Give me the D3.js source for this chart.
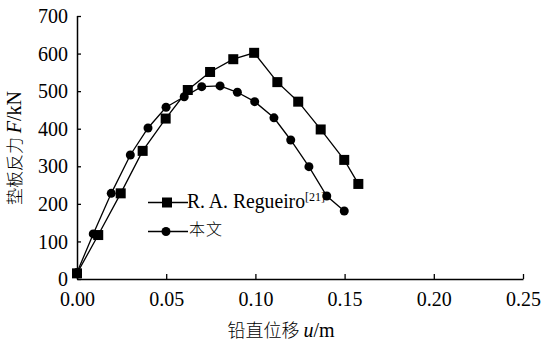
<!DOCTYPE html>
<html>
<head>
<meta charset="utf-8">
<script src="https://cdn.jsdelivr.net/npm/d3@7"></script>
<style>
  body { margin: 0; background: #fff; }
</style>
</head>
<body>
<div id="chart"></div>
<script>
// Data
var regU = [0, 0.0119, 0.0245, 0.0368, 0.0497, 0.0621, 0.0746, 0.0876, 0.0993, 0.1123, 0.124, 0.1366, 0.1498, 0.1577];
var regF = [15, 117, 228, 341, 427, 503, 551, 585, 602, 524, 472, 398, 317, 253];
var ourU = [0, 0.0091, 0.0192, 0.0299, 0.0398, 0.0499, 0.0601, 0.0699, 0.0802, 0.0899, 0.0996, 0.1104, 0.1198, 0.130, 0.140, 0.1498];
var ourF = [17, 120, 228, 330, 402, 457, 485, 512, 514, 497, 472, 429, 370, 299, 221, 181];
var xTicks = [0, 0.05, 0.10, 0.15, 0.20, 0.25];
var yTicks = [0, 100, 200, 300, 400, 500, 600, 700];

var SERIF = "'Liberation Serif', serif";
var CJK = "'Noto Sans CJK SC', sans-serif";

var width = 543, height = 345;
var svg = d3.select("#chart").append("svg")
  .attr("width", width).attr("height", height);

var xScale = d3.scaleLinear().domain([0, 0.25]).range([77, 523]);
var yScale = d3.scaleLinear().domain([0, 700]).range([279, 16]);

// axes with inward ticks
var xAxis = d3.axisTop(xScale).tickValues(xTicks).tickSize(5).tickFormat(d3.format(".2f"));
var gx = svg.append("g").attr("transform", "translate(0,279)").call(xAxis);
gx.select(".domain").attr("d", "M77.5,0.5H523.5").attr("stroke", "#000").attr("stroke-width", 1.5);
gx.selectAll(".tick line").attr("stroke", "#000").attr("stroke-width", 1.3);
gx.selectAll(".tick text").attr("y", 27).attr("dy", 0).attr("fill", "#000")
  .style("font-family", SERIF).style("font-size", "20px");

var yAxis = d3.axisRight(yScale).tickValues(yTicks).tickSize(4);
var gy = svg.append("g").attr("transform", "translate(77,0)").call(yAxis);
gy.select(".domain").attr("d", "M0.5,16V279.5").attr("stroke", "#000").attr("stroke-width", 1.5);
gy.selectAll(".tick line").attr("stroke", "#000").attr("stroke-width", 1.3);
gy.selectAll(".tick text").attr("x", -9).attr("dy", "0.33em").attr("fill", "#000")
  .attr("text-anchor", "end").style("font-family", SERIF).style("font-size", "20px");

// series
var line = d3.line().x(function(d) { return xScale(d[0]); }).y(function(d) { return yScale(d[1]); });
var regData = regU.map(function(u, i) { return [u, regF[i]]; });
var ourData = ourU.map(function(u, i) { return [u, ourF[i]]; });

svg.append("path").datum(regData).attr("d", line)
  .attr("fill", "none").attr("stroke", "#000").attr("stroke-width", 1.3);
svg.append("path").datum(ourData).attr("d", line)
  .attr("fill", "none").attr("stroke", "#000").attr("stroke-width", 1.3);

svg.selectAll("rect.reg").data(regData).enter().append("rect")
  .attr("class", "reg")
  .attr("x", function(d) { return xScale(d[0]) - 5; })
  .attr("y", function(d) { return yScale(d[1]) - 5; })
  .attr("width", 10).attr("height", 10).attr("fill", "#000");

svg.selectAll("circle.our").data(ourData).enter().append("circle")
  .attr("class", "our")
  .attr("cx", function(d) { return xScale(d[0]); })
  .attr("cy", function(d) { return yScale(d[1]); })
  .attr("r", 4.5).attr("fill", "#000");

// legend
var leg = svg.append("g");
leg.append("line").attr("x1", 148).attr("x2", 188).attr("y1", 202.5).attr("y2", 202.5)
  .attr("stroke", "#000").attr("stroke-width", 1.3);
leg.append("rect").attr("x", 162).attr("y", 197.5).attr("width", 10).attr("height", 10).attr("fill", "#000");
var t1 = leg.append("text").attr("x", 187).attr("y", 208)
  .style("font-family", SERIF).style("font-size", "20px");
t1.append("tspan").attr("textLength", 118).attr("lengthAdjust", "spacingAndGlyphs").text("R. A. Regueiro");
t1.append("tspan").style("font-size", "12px").attr("dy", -7).text("[21]");

leg.append("line").attr("x1", 148).attr("x2", 188).attr("y1", 231.5).attr("y2", 231.5)
  .attr("stroke", "#000").attr("stroke-width", 1.3);
leg.append("circle").attr("cx", 166).attr("cy", 231.5).attr("r", 4.5).attr("fill", "#000");
leg.append("text").attr("x", 189).attr("y", 235)
  .style("font-family", CJK).style("font-weight", 300).style("font-size", "16px")
  .style("letter-spacing", "1px").text("本文");

// axis titles
var xt = svg.append("text").attr("x", 281).attr("y", 337).attr("text-anchor", "middle")
  .style("font-family", SERIF).style("font-size", "20px");
xt.append("tspan").style("font-family", CJK).style("font-weight", 300).style("font-size", "18px")
  .text("铅直位移 ");
xt.append("tspan").style("font-style", "italic").text("u");
xt.append("tspan").text("/m");

var yt = svg.append("text").attr("transform", "translate(21,148) rotate(-90)")
  .attr("text-anchor", "middle").style("font-family", SERIF).style("font-size", "20px");
yt.append("tspan").style("font-family", CJK).style("font-weight", 300).style("font-size", "17px")
  .text("垫板反力 ");
yt.append("tspan").style("font-style", "italic").text("F");
yt.append("tspan").text("/kN");
</script>
</body>
</html>
